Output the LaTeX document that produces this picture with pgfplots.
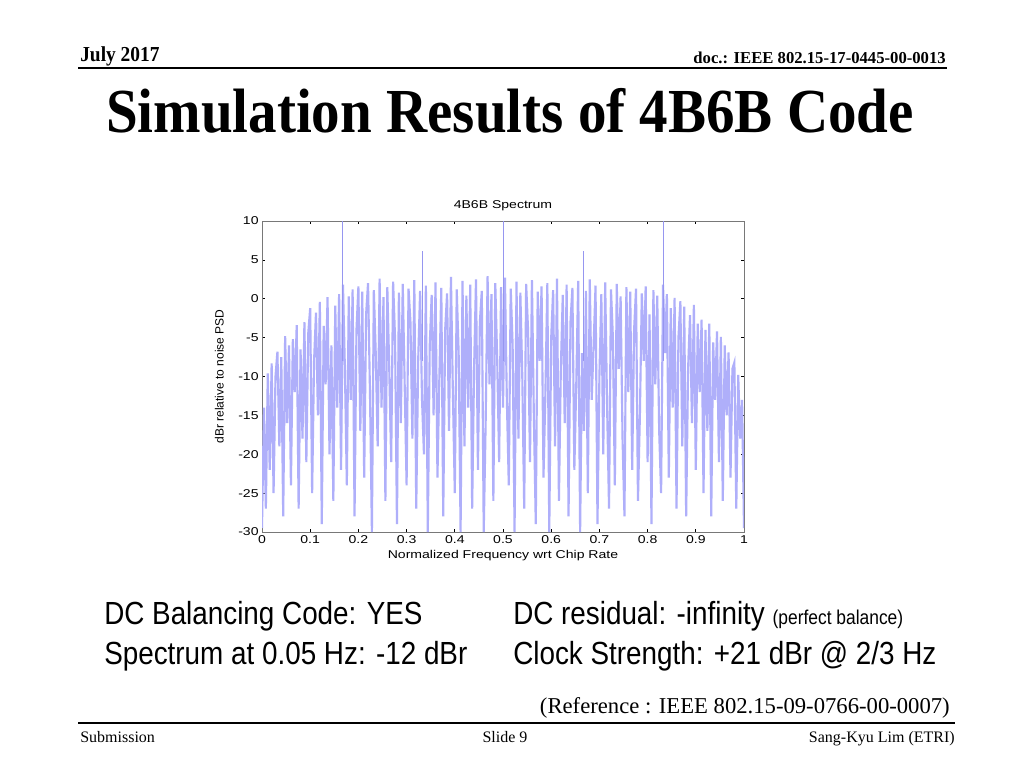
\documentclass[border=0pt]{standalone}
\usepackage{fontspec}
\setmainfont{Liberation Serif}
\setsansfont{Liberation Sans}
\newfontfamily\chartfont[FakeStretch=1.24]{Liberation Sans}
\usepackage{graphicx}
\usepackage{pgfplots}
\pgfplotsset{compat=1.18}
\usepackage{pgfplotstable}
\definecolor{psd}{RGB}{175,175,250}
\definecolor{spike}{RGB}{150,150,240}
\definecolor{boxgray}{RGB}{120,120,120}

% spectrum (dBr vs normalized frequency)
\pgfplotstableread{
f y
0.000 -29.5
0.004 -14
0.008 -27
0.012 -9.6
0.016 -22
0.020 -8.3
0.024 -25
0.028 -10
0.032 -6.8
0.036 -19
0.040 -7.5
0.044 -28
0.048 -4.8
0.052 -16
0.056 -6
0.060 -24
0.064 -5.2
0.068 -12
0.072 -3.4
0.076 -27
0.080 -6.5
0.084 -18
0.088 -3.0
0.092 -21
0.096 -4.4
0.100 -1.2
0.104 -25
0.108 -8
0.112 -1.8
0.116 -15
0.120 -0.4
0.124 -29
0.128 -3.5
0.132 -11
0.136 0.2
0.140 -20
0.144 -6
0.148 -26
0.152 -0.9
0.156 -14
0.160 0.6
0.164 -22
0.168 1.8
0.172 -9
0.176 -24
0.180 0.3
0.184 -13
0.188 1.2
0.192 -28
0.196 -4
0.200 1.6
0.204 -17
0.208 0.9
0.212 -23
0.216 -2
0.220 2.0
0.224 -12
0.228 -30
0.232 1.1
0.236 -7
0.240 -19
0.244 2.6
0.248 -14
0.252 0.2
0.256 -26
0.260 1.5
0.264 -9
0.268 -21
0.272 2.2
0.276 -5
0.280 -29
0.284 0.8
0.288 -16
0.292 1.9
0.296 -11
0.300 -24
0.304 1.3
0.308 -3
0.312 -18
0.316 2.4
0.320 -27
0.324 -8
0.328 1.0
0.332 -13
0.336 -20
0.340 1.7
0.344 -30
0.348 -6
0.352 0.5
0.356 -15
0.360 2.1
0.364 -23
0.368 -10
0.372 1.4
0.376 -28
0.380 -4
0.384 0.7
0.388 -17
0.392 2.8
0.396 -12
0.400 -25
0.404 1.2
0.408 -7
0.412 -30
0.416 2.3
0.420 -19
0.424 0.4
0.428 -14
0.432 1.8
0.436 -27
0.440 -9
0.444 2.5
0.448 -22
0.452 -3
0.456 1.0
0.460 -30
0.464 -16
0.468 2.9
0.472 -11
0.476 0.6
0.480 -26
0.484 2.0
0.488 -8
0.492 -21
0.496 1.5
0.500 -14
0.504 2.7
0.508 -13
0.512 -24
0.516 1.3
0.520 -6
0.524 -30
0.528 2.2
0.532 -18
0.536 0.8
0.540 -10
0.544 -27
0.548 1.9
0.552 -4
0.556 -21
0.560 2.4
0.564 -15
0.568 -29
0.572 0.9
0.576 -8
0.580 1.6
0.584 -23
0.588 -12
0.592 2.0
0.596 -30
0.600 -5
0.604 1.1
0.608 -19
0.612 2.6
0.616 -26
0.620 -9
0.624 0.5
0.628 -16
0.632 1.8
0.636 -28
0.640 -3
0.644 1.4
0.648 -22
0.652 -11
0.656 2.3
0.660 -30
0.664 -7
0.668 -17
0.672 1.0
0.676 -25
0.680 2.5
0.684 -13
0.688 -6
0.692 1.7
0.696 -29
0.700 -10
0.704 0.6
0.708 -20
0.712 2.1
0.716 -14
0.720 -27
0.724 1.2
0.728 -5
0.732 -24
0.736 1.9
0.740 -9
0.744 0.3
0.748 -18
0.752 -28
0.756 1.5
0.760 -12
0.764 0.9
0.768 -22
0.772 -4
0.776 1.3
0.780 -26
0.784 -15
0.788 0.7
0.792 -8
0.796 1.6
0.800 -21
0.804 -2
0.808 -29
0.812 1.1
0.816 -11
0.820 0.4
0.824 -17
0.828 -25
0.832 1.8
0.836 -7
0.840 0.6
0.844 -23
0.848 -1.2
0.852 -14
0.856 0.1
0.860 -27
0.864 -5
0.868 -0.3
0.872 -19
0.876 -1.0
0.880 -28
0.884 -9
0.888 -2.1
0.892 -16
0.896 -0.8
0.900 -22
0.904 -3.2
0.908 -12
0.912 -2.7
0.916 -25
0.920 -4.0
0.924 -17
0.928 -3.2
0.932 -28
0.936 -5.6
0.940 -13
0.944 -4.2
0.948 -21
0.952 -4.9
0.956 -26
0.960 -6.0
0.964 -15
0.968 -6.9
0.972 -23
0.976 -9
0.980 -8.2
0.984 -27
0.988 -9.8
0.992 -18
0.996 -13
1.000 -29.5
}\psdtable

% clock lines at multiples of 1/6 of the chip rate
\pgfplotstableread{
f y
0.1667 -8
0.1667 12
0.25 nan
0.3333 -8
0.3333 6.2
0.42 nan
0.5000 -8
0.5000 12
0.58 nan
0.6667 -8
0.6667 6.2
0.75 nan
0.8333 -8
0.8333 12
}\spiketable

\begin{document}
\begin{tikzpicture}[x=0.75pt,y=0.75pt]
% slide frame, 1 unit = 1 px of the 1024x768 slide, y measured from the bottom
\path[use as bounding box,fill=white] (0,0) rectangle (1024,768);

\node[anchor=base west,inner sep=0] at (80,706)
  {\scalebox{0.91}[1]{\bfseries\fontsize{16}{19}\selectfont July 2017}};
\node[anchor=base east,inner sep=0] at (946,704)
  {\bfseries\fontsize{12.5}{15}\selectfont doc.: IEEE 802.15-17-0445-00-0013};
\draw[line width=1.5pt] (78,700) -- (947,700);

\node[anchor=base,inner sep=0] at (510,635)
  {\scalebox{0.91}[1]{\bfseries\fontsize{47}{52}\selectfont Simulation Results of 4B6B Code}};

\coordinate (axpos) at (262,236);
\begin{axis}[
  at={(axpos)},anchor=south west,
  scale only axis,width=361.5pt,height=233.25pt,
  xmin=0,xmax=1,ymin=-30,ymax=10,
  xtick={0,0.1,...,1},ytick={-30,-25,...,10},
  tick align=inside,major tick length=2.5pt,
  axis line style={boxgray,line width=0.5pt},
  tick style={black,line width=0.5pt},
  font=\chartfont\fontsize{8.5}{10}\selectfont,
  /pgf/number format/assume math mode=true,
  yticklabel style={xshift=1pt},
  xticklabel style={yshift=1pt},
  title={4B6B Spectrum},
  title style={yshift=-2pt},
  xlabel={Normalized Frequency wrt Chip Rate},
  ylabel={dBr relative to noise PSD},
  xlabel style={yshift=2pt},
  ylabel style={font=\sffamily\fontsize{9}{10}\selectfont,yshift=4pt},
  unbounded coords=jump,
  clip=true,
]
\addplot[psd,line width=1.6pt] table[x=f,y=y] {\psdtable};
\addplot[spike,line width=0.5pt] table[x=f,y=y] {\spiketable};
\end{axis}

\node[anchor=base west,inner sep=0] at (104,144)
  {\scalebox{0.87}[1]{\sffamily\fontsize{24}{28}\selectfont DC Balancing Code: YES}};
\node[anchor=base west,inner sep=0] at (104,104)
  {\scalebox{0.87}[1]{\sffamily\fontsize{24}{28}\selectfont Spectrum at 0.05 Hz: -12 dBr}};
\node[anchor=base west,inner sep=0] at (513,144)
  {\scalebox{0.87}[1]{\sffamily\fontsize{24}{28}\selectfont DC residual: -infinity {\fontsize{15}{18}\selectfont(perfect balance)}}};
\node[anchor=base west,inner sep=0] at (513,104)
  {\scalebox{0.87}[1]{\sffamily\fontsize{24}{28}\selectfont Clock Strength: +21 dBr @ 2/3 Hz}};

\node[anchor=base east,inner sep=0] at (950,55)
  {\fontsize{17}{20}\selectfont (Reference : IEEE 802.15-09-0766-00-0007)};
\draw[line width=1.2pt] (78,45) -- (955,45);
\node[anchor=base west,inner sep=0] at (80,26) {\fontsize{12}{14}\selectfont Submission};
\node[anchor=base,inner sep=0] at (505,26) {\fontsize{12}{14}\selectfont Slide 9};
\node[anchor=base east,inner sep=0] at (955,26) {\fontsize{12}{14}\selectfont Sang-Kyu Lim (ETRI)};
\end{tikzpicture}
\end{document}
